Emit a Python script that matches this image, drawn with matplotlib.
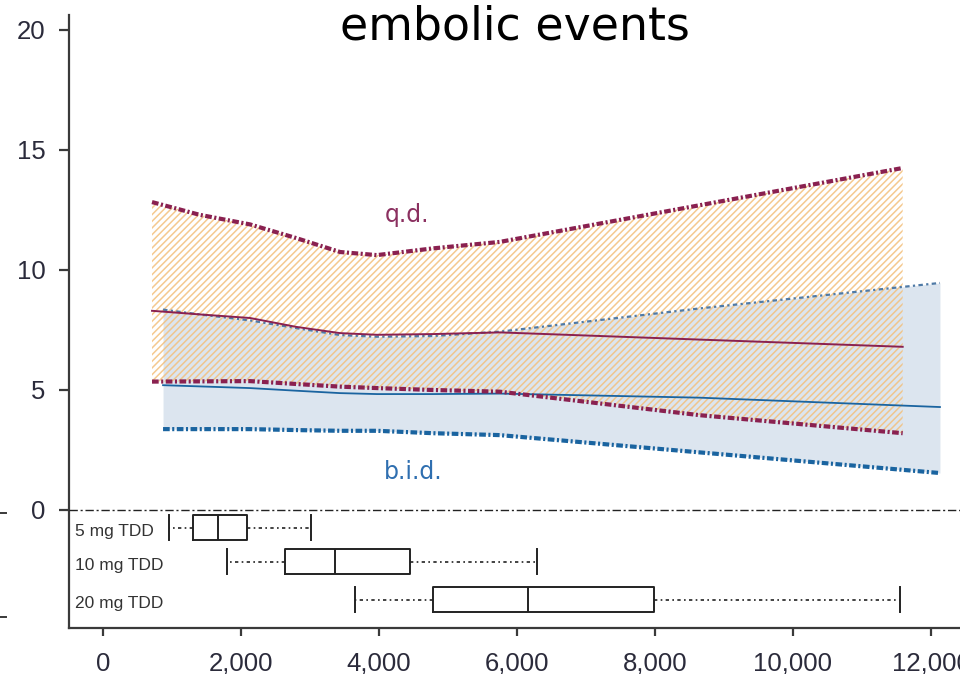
import matplotlib
matplotlib.use("Agg")
import matplotlib.pyplot as plt
from matplotlib.lines import Line2D
from matplotlib.ticker import FuncFormatter

# dose-response bands (event rate vs exposure)
qd_x = [710, 1400, 2130, 2800, 3435, 3970, 4780, 5750, 8650, 11590]
qd_upper = [12.83, 12.3, 11.9, 11.33, 10.75, 10.62, 10.9, 11.17, 12.7, 14.25]
qd_mid = [8.30, 8.15, 8.0, 7.63, 7.37, 7.3, 7.33, 7.4, 7.1, 6.8]
qd_lower = [5.35, 5.36, 5.37, 5.25, 5.14, 5.08, 5.0, 4.93, 3.95, 3.2]

bid_x = [870, 1400, 2130, 2800, 3435, 3970, 4780, 5750, 8650, 12130]
bid_upper = [8.35, 8.15, 7.9, 7.58, 7.29, 7.22, 7.25, 7.43, 8.4, 9.46]
bid_mid = [5.2, 5.15, 5.08, 4.97, 4.87, 4.83, 4.83, 4.85, 4.68, 4.29]
bid_lower = [3.37, 3.37, 3.37, 3.33, 3.3, 3.3, 3.2, 3.12, 2.4, 1.54]

# exposure distributions per total daily dose
dose_labels = ["5 mg TDD", "10 mg TDD", "20 mg TDD"]
whis_lo = [957, 1797, 3652]
q1 = [1304, 2638, 4783]
median = [1667, 3362, 6159]
q3 = [2087, 4449, 7986]
whis_hi = [3014, 6290, 11551]
box_pos = [-0.73, -2.15, -3.73]

y_ticks = [0, 5, 10, 15, 20]
x_ticks = [0, 2000, 4000, 6000, 8000, 10000, 12000]

maroon = "#8a2150"
blue = "#1a64a0"
axis_col = "#3a3a3a"

plt.rcParams['font.family'] = ['Liberation Sans', 'DejaVu Sans']
plt.rcParams['hatch.linewidth'] = 1.1

fig = plt.figure(figsize=(9.6, 6.74), dpi=100)
ax = fig.add_axes([69 / 960, 1 - 628 / 674, (975 - 69) / 960, (628 - 15) / 674])

# b.i.d. band
ax.fill_between(bid_x, bid_lower, bid_upper, color="#dce5ef", lw=0, zorder=1)
# q.d. band, hatched
ax.fill_between(qd_x, qd_lower, qd_upper, facecolor="none", edgecolor="#f3c07c",
                hatch="/////", lw=0, alpha=0.85, zorder=2)

ax.plot(bid_x, bid_upper, color="#4f7aa6", lw=1.6, ls=(0, (2, 1.5, 1, 1.5)), zorder=3)
ax.plot(bid_x, bid_mid, color=blue, lw=1.3, zorder=3)
ax.plot(bid_x, bid_lower, color=blue, lw=3, ls=(0, (1.6, 0.6, 0.5, 0.6)), zorder=3)

ax.plot(qd_x, qd_upper, color=maroon, lw=3, ls=(0, (1.6, 0.6, 0.5, 0.6)), zorder=4)
ax.plot(qd_x, qd_mid, color=maroon, lw=1.4, zorder=4)
ax.plot(qd_x, qd_lower, color=maroon, lw=3, ls=(0, (1.6, 0.6, 0.5, 0.6)), zorder=4)

ax.text(4400, 12.3, "q.d.", color="#8b3060", fontsize=17, family="DejaVu Sans",
        ha="center", va="center")
ax.text(4500, 1.6, "b.i.d.", color="#2f6fb0", fontsize=17, family="DejaVu Sans",
        ha="center", va="center")

# zero reference line
ax.axhline(0, color="#222222", lw=1, ls=(0, (6, 2, 1.5, 2)), zorder=5)

stats = []
for i in range(len(dose_labels)):
    stats.append(dict(whislo=whis_lo[i], q1=q1[i], med=median[i], q3=q3[i],
                      whishi=whis_hi[i], fliers=[]))
ax.bxp(stats, positions=box_pos, widths=1.04, capwidths=1.04,
       orientation="horizontal", showfliers=False, manage_ticks=False,
       boxprops=dict(color="#222222", lw=1.4),
       medianprops=dict(color="#222222", lw=1.4),
       whiskerprops=dict(color="#222222", lw=1.2, ls=(0, (2, 2, 1, 2))),
       capprops=dict(color="#222222", lw=1.4))

for lab, p in zip(dose_labels, box_pos):
    ax.text(-405, p - 0.15, lab, fontsize=12.5, color="#333333", ha="left", va="center")

ax.set_xlim(-493, 12638)
ax.set_ylim(-4.917, 20.625)
ax.set_yticks(y_ticks)
ax.set_xticks(x_ticks)
ax.xaxis.set_major_formatter(FuncFormatter(lambda v, p: f"{int(v):,}"))

for side in ("top", "right"):
    ax.spines[side].set_visible(False)
for side in ("left", "bottom"):
    ax.spines[side].set_color(axis_col)
    ax.spines[side].set_linewidth(1.6)
ax.tick_params(axis="both", direction="out", color=axis_col, width=1.6,
               labelsize=18.5, labelcolor="#2b2b3b")
ax.tick_params(axis="y", length=7, pad=10)
ax.tick_params(axis="x", length=6, pad=11)

fig.text(515 / 960, 1 - 40 / 674, "embolic events", fontsize=33,
         family="DejaVu Sans", ha="center", va="baseline", color="black")

# stub ticks of the neighbouring panel at the left edge
for ypx in (512.5, 616.5):
    fig.add_artist(Line2D([0, 6 / 960], [1 - ypx / 674] * 2, color=axis_col, lw=1.4))

fig.savefig("out.png", dpi=100)
